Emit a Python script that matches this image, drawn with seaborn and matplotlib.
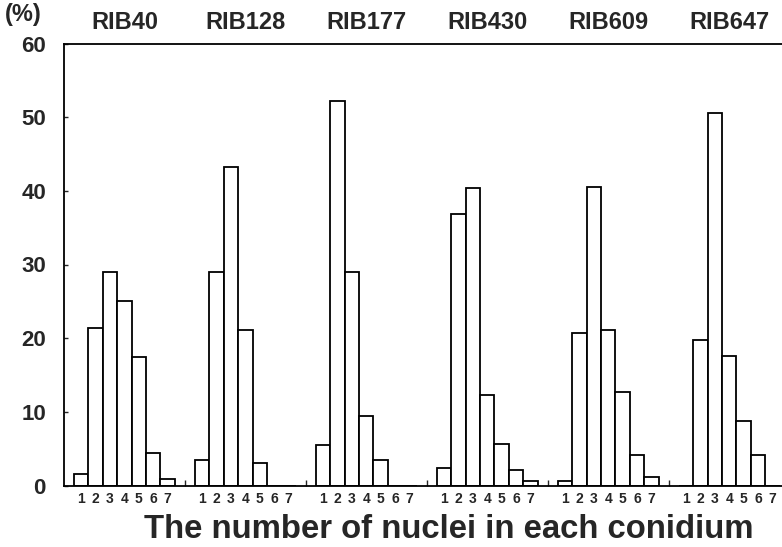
import numpy as np
import pandas as pd
import matplotlib
matplotlib.use("Agg")
import matplotlib.pyplot as plt
import seaborn as sns

strains = ["RIB40", "RIB128", "RIB177", "RIB430", "RIB609", "RIB647"]
nuclei = [1, 2, 3, 4, 5, 6, 7]
rib40 = [1.6, 21.4, 29.0, 25.0, 17.5, 4.4, 0.9]
rib128 = [3.5, 29.0, 43.3, 21.1, 3.0, 0.0, 0.0]
rib177 = [5.5, 52.2, 29.0, 9.5, 3.5, 0.0, 0.0]
rib430 = [2.4, 36.9, 40.4, 12.3, 5.6, 2.1, 0.6]
rib609 = [0.6, 20.7, 40.5, 21.1, 12.7, 4.1, 1.1]
rib647 = [0.0, 19.7, 50.6, 17.6, 8.7, 4.1, 0.0]
series = [rib40, rib128, rib177, rib430, rib609, rib647]
yticks = [0, 10, 20, 30, 40, 50, 60]

GROUP_STEP = 8.4

rows = []
for g, (name, vals) in enumerate(zip(strains, series)):
    for n, v in zip(nuclei, vals):
        rows.append({"strain": name, "n": n, "pos": g * GROUP_STEP + n, "pct": v})
df = pd.DataFrame(rows)

sns.set_theme(style="white")
plt.rcParams["font.family"] = ["Liberation Sans", "DejaVu Sans"]
plt.rcParams["font.weight"] = "bold"

fig = plt.figure(figsize=(7.82, 5.47), dpi=100)
ax = fig.add_axes([64 / 782, 61.5 / 547, 1 - 64 / 782, 442 / 547])

sns.barplot(data=df, x="pos", y="pct", native_scale=True, color="white",
            edgecolor="black", linewidth=1.3, width=1.0, errorbar=None,
            saturation=1, ax=ax)

ax.set_xlim(-0.194, 49.67)
ax.set_ylim(0, 60)

ax.set_xticks(df["pos"].values)
ax.set_xticklabels([str(n) for n in df["n"].values], fontsize=10, fontweight="bold")
mids = [g * GROUP_STEP + 8.2 for g in range(len(strains) - 1)]
ax.set_xticks(mids, minor=True)
ax.tick_params(axis="x", which="major", length=0, pad=5)
ax.tick_params(axis="x", which="minor", direction="in", length=4, width=1, bottom=True)

ax.set_yticks(yticks)
ax.set_yticklabels([str(t) for t in yticks], fontsize=16, fontweight="bold")
ax.tick_params(axis="y", direction="in", length=3, width=1, left=True, pad=13)

for side in ["left", "bottom", "top"]:
    ax.spines[side].set_visible(True)
    ax.spines[side].set_color("black")
    ax.spines[side].set_linewidth(1.3)
ax.spines["right"].set_visible(False)

ax.set_xlabel("")
ax.set_ylabel("")

for g, name in enumerate(strains):
    ax.text(g * GROUP_STEP + 4, 62.8, name, ha="center", va="center",
            fontsize=17, fontweight="bold", clip_on=False)

fig.text(23 / 782, 1 - 14 / 547, "(%)", ha="center", va="center",
         fontsize=17, fontweight="bold")
fig.text(449 / 782, 17 / 547, "The number of nuclei in each conidium",
         ha="center", va="center", fontsize=23.7, fontweight="bold")

fig.savefig("out.png", dpi=100)
